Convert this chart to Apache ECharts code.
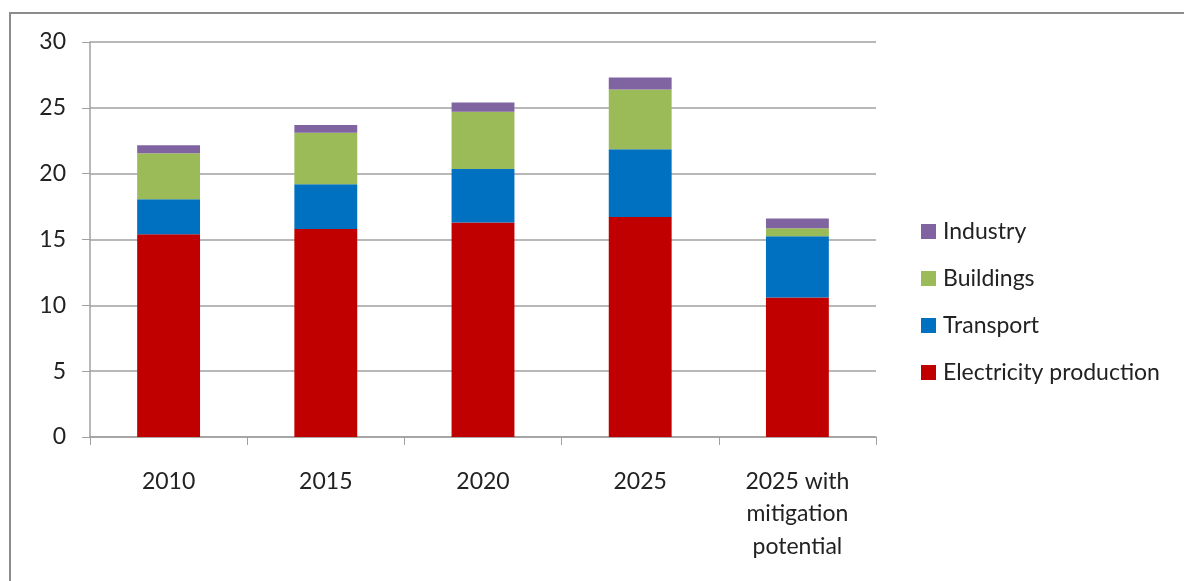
<!DOCTYPE html>
<html>
<head>
<meta charset="utf-8">
<script src="https://cdn.jsdelivr.net/npm/echarts@6/dist/echarts.min.js"></script>
<style>
  html, body { margin: 0; padding: 0; background: #fff; }
  #frame { position: absolute; left: 9px; top: 12px; width: 1200px; height: 600px; border: 2px solid #8c8c8c; box-sizing: border-box; }
  #chart { position: absolute; left: 0; top: 0; width: 1184px; height: 581px; }
</style>
</head>
<body>
<div id="frame"></div>
<div id="chart"></div>
<script>
var categories = ['2010', '2015', '2020', '2025', '2025 with\nmitigation\npotential'];
var electricity = [15.4, 15.8, 16.3, 16.7, 10.6];
var transport = [2.65, 3.4, 4.05, 5.15, 4.65];
var buildings = [3.5, 3.9, 4.35, 4.55, 0.6];
var industry = [0.6, 0.6, 0.7, 0.9, 0.75];
var legendOrder = ['Industry', 'Buildings', 'Transport', 'Electricity production'];

var chart = echarts.init(document.getElementById('chart'));
var font = 'Lato';

function bar(name, data, color) {
  return {
    name: name,
    type: 'bar',
    stack: 'total',
    barCategoryGap: '60%',
    data: data,
    itemStyle: { color: color }
  };
}

var option = {
  animation: false,
  textStyle: { fontFamily: font },
  grid: { left: 90, top: 42, right: 308, bottom: 144 },
  legend: {
    orient: 'vertical',
    left: 916,
    top: 215,
    itemWidth: 15,
    itemHeight: 15,
    itemGap: 24,
    icon: 'rect',
    data: legendOrder,
    textStyle: { fontFamily: font, fontSize: 23, color: '#222', padding: [0, 0, 0, 2] }
  },
  xAxis: {
    type: 'category',
    data: categories,
    axisLine: { lineStyle: { color: '#a0a0a0', width: 1.5 } },
    axisTick: { show: true, length: 8, lineStyle: { color: '#a0a0a0' } },
    axisLabel: { fontFamily: font, fontSize: 23, color: '#222', margin: 28, lineHeight: 32.5 }
  },
  yAxis: {
    type: 'value',
    min: 0,
    max: 30,
    interval: 5,
    axisLine: { show: true, lineStyle: { color: '#a0a0a0', width: 1.5 } },
    axisTick: { show: true, length: 8, lineStyle: { color: '#a0a0a0' } },
    splitLine: { lineStyle: { color: '#a0a0a0', width: 1.5 } },
    axisLabel: { fontFamily: font, fontSize: 23, color: '#222', margin: 24 }
  },
  series: [
    bar('Electricity production', electricity, '#c00000'),
    bar('Transport', transport, '#0070c0'),
    bar('Buildings', buildings, '#9bbb59'),
    bar('Industry', industry, '#8064a2')
  ]
};
chart.setOption(option);
</script>
</body>
</html>
